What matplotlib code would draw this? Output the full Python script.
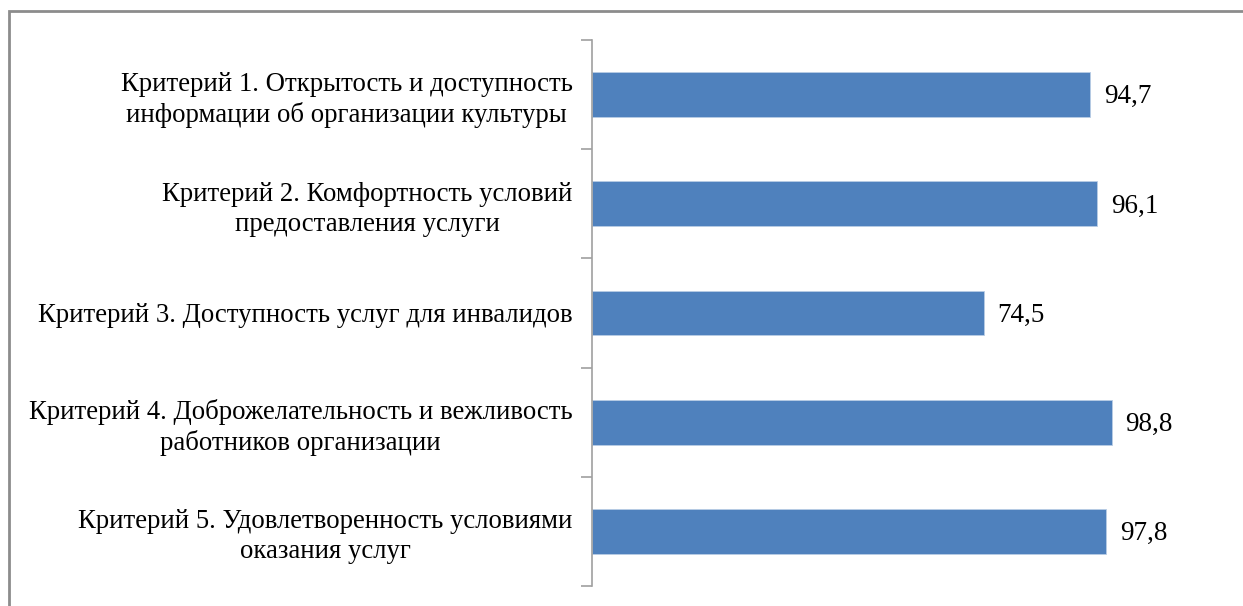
import numpy as np
import matplotlib
matplotlib.use('Agg')
import matplotlib.pyplot as plt
from matplotlib.patches import Rectangle

# data
labels = [
    "Критерий 1. Открытость и доступность\nинформации об организации культуры",
    "Критерий 2. Комфортность условий\nпредоставления услуги",
    "Критерий 3. Доступность услуг для инвалидов",
    "Критерий 4. Доброжелательность и вежливость\nработников организации",
    "Критерий 5. Удовлетворенность условиями\nоказания услуг",
]
values = [94.7, 96.1, 74.5, 98.8, 97.8]
value_text = ["94,7", "96,1", "74,5", "98,8", "97,8"]

plt.rcParams['font.family'] = ['Liberation Serif', 'DejaVu Serif']

fig = plt.figure(figsize=(12.43, 6.06), dpi=100)
ax = fig.add_axes([592/1243, 1 - 586/606, (1223 - 592)/1243, (586 - 40)/606])

y = np.arange(len(values))
ax.barh(y, values, height=0.41, color='#4F81BD', edgecolor='#B9CDE5', linewidth=0.6)

for yi, v, t in zip(y, values, value_text):
    ax.text(v + 2.6, yi + 0.02, t, va='center', ha='left', fontsize=19.5)

ax.set_xlim(0, 120)
ax.set_ylim(len(values) - 0.5, -0.5)

ax.set_yticks(y)
ax.set_yticklabels(labels, fontsize=19.3, multialignment='center', linespacing=1.25)
ax.tick_params(axis='y', which='major', length=0, pad=14)
ax.set_yticks(np.arange(-0.5, len(values)), minor=True)
ax.tick_params(axis='y', which='minor', length=8, color='#A0A0A0', width=1.2)
ax.set_xticks([])

for s in ['top', 'right', 'bottom']:
    ax.spines[s].set_visible(False)
ax.spines['left'].set_color('#A0A0A0')
ax.spines['left'].set_linewidth(1.2)

# outer frame (cut off at the right and bottom)
fig.patches.append(Rectangle((9/1243, -0.1), 1.2, 1 - 11/606 + 0.1, transform=fig.transFigure,
                             fill=False, edgecolor='#8C8C8C', linewidth=2, clip_on=False))

fig.savefig('out.png', dpi=100)
